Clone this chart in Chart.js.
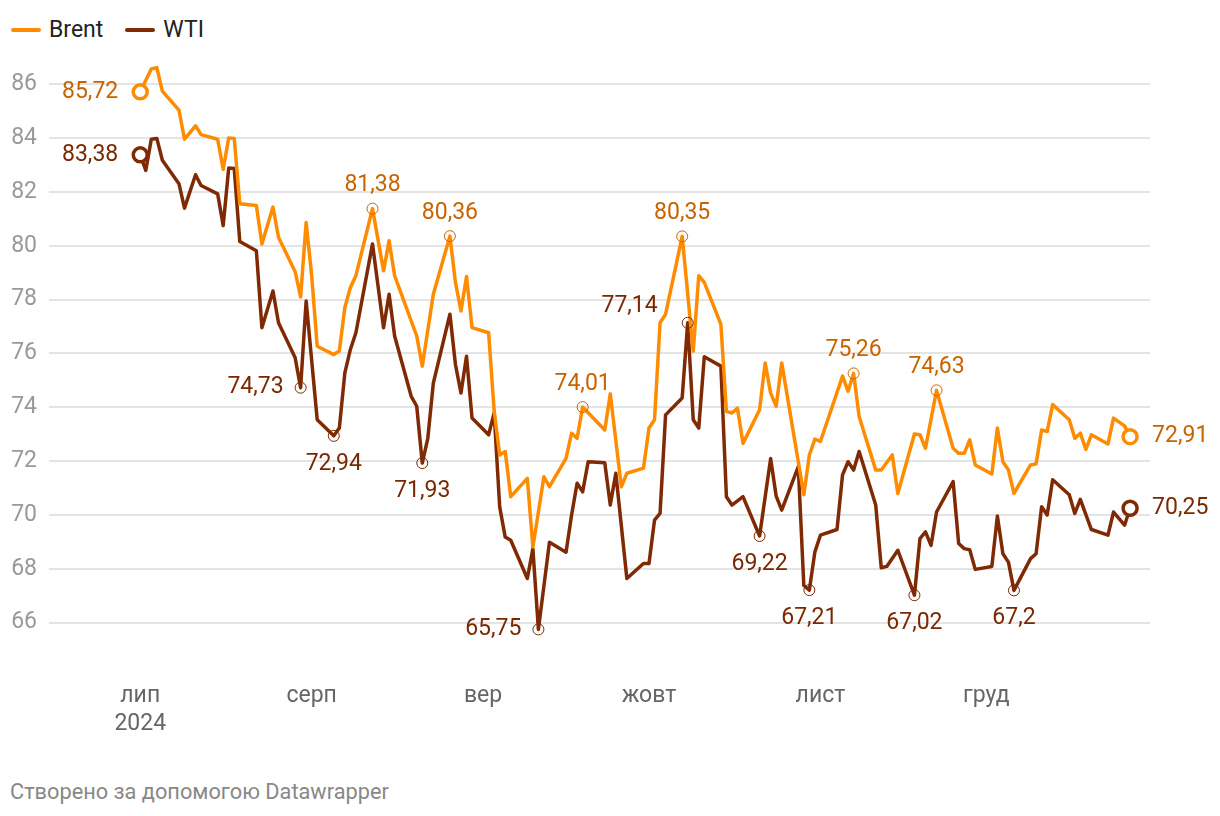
<!DOCTYPE html>
<html lang="uk">
<head>
<meta charset="utf-8">
<script src="https://cdn.jsdelivr.net/npm/chart.js@4/dist/chart.umd.min.js"></script>
<style>
  html, body { margin: 0; padding: 0; background: #fff; }
  body { width: 1220px; height: 816px; position: relative; font-family: Roboto, sans-serif; overflow: hidden; }
  .legenda { position: absolute; top: 16px; left: 11px; display: flex; align-items: center; font-size: 23px; color: #222; }
  .legenda span { display: flex; align-items: center; margin-right: 22px; }
  .legenda i { display: inline-block; width: 30px; height: 4px; border-radius: 2px; margin-right: 8px; }
  #grafico_box { position: absolute; top: 40px; left: 0; width: 1220px; height: 720px; }
  .credito { position: absolute; left: 10px; top: 779px; font-size: 21.75px; color: #888; }
</style>
</head>
<body>
<div class="legenda">
  <span><i style="background:#ff8c00"></i>Brent</span>
  <span><i style="background:#7f2a05"></i>WTI</span>
</div>
<div id="grafico_box"><canvas id="grafico" width="1220" height="720"></canvas></div>
<div class="credito">Створено за допомогою Datawrapper</div>
<script>
// dias contados a partir de 1 de julho de 2024
const brent_dias = [0,2,3,4,7,8,10,11,14,15,16,17,18,21,22,24,25,28,29,30,31,32,35,36,37,38,39,42,44,45,46,50,51,53,56,57,58,59,60,63,64,65,66,67,70,71,73,74,77,78,79,80,84,85,87,88,91,92,93,94,95,98,100,101,102,105,106,107,108,109,112,113,114,115,116,120,121,122,123,127,128,129,130,133,134,136,137,140,141,142,144,147,148,149,150,151,154,155,156,157,158,161,162,163,164,165,168,169,170,171,172,175,176,178,179];
const brent_precos = [85.72,86.57,86.62,85.75,85.04,83.96,84.46,84.13,83.96,82.84,84.01,83.99,81.56,81.5,80.07,81.44,80.32,79.05,78.1,80.87,78.89,76.27,75.96,76.09,77.71,78.45,78.89,81.38,79.07,80.19,78.89,76.65,75.53,78.2,80.36,78.64,77.58,78.86,76.96,76.77,73.88,72.23,72.36,70.68,71.36,68.81,71.42,71.05,72.1,73.04,72.85,74.01,73.16,74.5,71.05,71.55,71.74,73.23,73.54,77.14,77.46,80.35,76.09,78.89,78.64,77.08,73.85,73.79,73.97,72.66,73.91,75.65,74.53,74.04,75.65,70.75,72.23,72.82,72.73,75.16,74.6,75.26,73.66,71.67,71.67,72.23,70.8,73.01,72.98,72.48,74.63,72.48,72.29,72.29,72.79,71.86,71.52,73.23,71.98,71.67,70.8,71.86,71.9,73.16,73.1,74.1,73.54,72.85,73.04,72.44,72.98,72.64,73.6,73.31,72.91];

const wti_dias = [0,1,2,3,4,7,8,10,11,14,15,16,17,18,21,22,24,25,28,29,30,32,35,36,37,38,39,42,44,45,46,49,50,51,52,53,56,57,58,59,60,63,64,65,66,67,70,71,72,74,77,78,79,80,81,84,85,86,88,91,92,93,94,95,98,99,100,101,102,105,106,107,109,112,114,115,116,119,120,121,122,123,126,127,128,129,130,133,134,135,137,140,141,142,143,144,147,148,149,150,151,154,155,156,157,158,161,162,163,164,165,168,169,170,172,175,176,178,179];
const wti_precos = [83.38,82.8,83.96,83.99,83.18,82.31,81.4,82.64,82.24,81.93,80.75,82.89,82.87,80.16,79.82,76.96,78.32,77.14,75.85,74.73,77.95,73.54,72.94,73.23,75.28,76.15,76.77,80.07,76.96,78.2,76.65,74.41,74.04,71.93,72.85,74.9,77.46,75.59,74.53,75.9,73.6,72.98,73.79,70.3,69.18,69.06,67.64,68.75,65.75,68.99,68.62,70.0,71.18,70.86,71.98,71.94,70.37,71.55,67.64,68.2,68.2,69.81,70.06,73.72,74.35,77.14,73.54,73.23,75.88,75.53,70.68,70.37,70.68,69.22,72.1,70.7,70.18,71.8,67.38,67.21,68.63,69.25,69.46,71.49,71.98,71.67,72.36,70.37,68.04,68.09,68.69,67.02,69.12,69.37,68.87,70.11,71.24,68.94,68.75,68.71,67.98,68.09,69.96,68.56,68.25,67.2,68.38,68.56,70.31,70.0,71.31,70.75,70.06,70.58,69.46,69.25,70.11,69.62,70.25];

const meses_dias = [0,31,62,92,123,153];
const meses_nomes = ['лип','серп','вер','жовт','лист','груд'];
const ano = '2024';
const valores_y = [66,68,70,72,74,76,78,80,82,84,86];

// pontos destacados: dia e onde vai o texto
const destaques_brent = [[0,'inicio'],[42,'cima'],[56,'cima'],[80,'cima'],[98,'cima'],[129,'cima'],[144,'cima'],[179,'fim']];
const destaques_wti = [[0,'inicio'],[29,'lado'],[35,'baixo'],[51,'baixo'],[72,'lado'],[99,'ladocima'],[112,'baixo'],[121,'baixo'],[140,'baixo'],[158,'baixo'],[179,'fim']];

const cor_brent = '#ff8c00';
const cor_wti = '#7f2a05';
const texto_brent = '#c86400';
const texto_wti = '#7b2800';

const pontos = (dias, precos) => dias.map((d, i) => ({x: d, y: precos[i]}));

const marcadores = {
    id: 'marcadores',
    afterDatasetsDraw(chart) {
        const {ctx, scales: {x, y}} = chart;
        const series = [
            {dias: brent_dias, precos: brent_precos, lista: destaques_brent, linha: cor_brent, texto: texto_brent},
            {dias: wti_dias, precos: wti_precos, lista: destaques_wti, linha: cor_wti, texto: texto_wti},
        ];
        ctx.save();
        ctx.font = '23px Roboto';
        series.forEach(s => {
            s.lista.forEach(([dia, lugar]) => {
                const i = s.dias.indexOf(dia);
                const valor = s.precos[i];
                const px = x.getPixelForValue(dia);
                const py = y.getPixelForValue(valor);
                const grande = lugar === 'inicio' || lugar === 'fim';
                ctx.beginPath();
                if (grande) {
                    ctx.arc(px, py, 7, 0, Math.PI * 2);
                    ctx.fillStyle = '#fff';
                    ctx.fill();
                    ctx.lineWidth = 3.5;
                    ctx.strokeStyle = s.linha;
                } else {
                    ctx.arc(px, py, 5.5, 0, Math.PI * 2);
                    ctx.lineWidth = 1;
                    ctx.strokeStyle = s.texto;
                }
                ctx.stroke();

                const rotulo = String(valor).replace('.', ',');
                ctx.fillStyle = s.texto;
                ctx.textBaseline = 'middle';
                let tx = px, ty = py;
                if (lugar === 'inicio') { ctx.textAlign = 'right'; tx = px - 22; }
                else if (lugar === 'fim') { ctx.textAlign = 'left'; tx = px + 22; }
                else if (lugar === 'cima') { ctx.textAlign = 'center'; ty = py - 23; }
                else if (lugar === 'baixo') { ctx.textAlign = 'center'; ty = py + 28; }
                else if (lugar === 'lado') { ctx.textAlign = 'right'; tx = px - 17; }
                else { ctx.textAlign = 'right'; tx = px - 30; ty = py - 17; }
                ctx.fillText(rotulo, tx, ty);
            });
        });
        ctx.restore();
    }
};

const grafico = new Chart(document.getElementById('grafico'), {
    type: 'line',
    data: {
        datasets: [
            {
                label: 'Brent',
                data: pontos(brent_dias, brent_precos),
                borderColor: cor_brent,
                borderWidth: 3.5,
                pointRadius: 0,
                borderJoinStyle: 'round',
                tension: 0,
            },
            {
                label: 'WTI',
                data: pontos(wti_dias, wti_precos),
                borderColor: cor_wti,
                borderWidth: 3.5,
                pointRadius: 0,
                borderJoinStyle: 'round',
                tension: 0,
            }
        ]
    },
    options: {
        responsive: false,
        animation: false,
        layout: { padding: { top: 17.4, right: 70, left: 0, bottom: 0 } },
        plugins: { legend: { display: false }, tooltip: { enabled: false } },
        scales: {
            x: {
                type: 'linear',
                min: -16.5,
                max: 182.6,
                afterBuildTicks: (scale) => { scale.ticks = meses_dias.map(v => ({value: v})); },
                afterFit: (scale) => { scale.height = 83.5; },
                grid: { display: false, drawTicks: false },
                border: { display: false },
                ticks: {
                    autoSkip: false,
                    maxRotation: 0,
                    padding: 5,
                    color: '#666',
                    font: { family: 'Roboto', size: 23, lineHeight: 1.25 },
                    callback: (value, index) => index === 0 ? [meses_nomes[0], ano] : meses_nomes[index],
                }
            },
            y: {
                min: 64,
                max: 87,
                afterBuildTicks: (scale) => { scale.ticks = valores_y.map(v => ({value: v})); },
                afterFit: (scale) => {
                    scale.width = 49;
                    scale.paddingTop = 0;
                    scale.paddingBottom = 0;
                },
                grid: { color: '#e4e4e4', lineWidth: 2, drawTicks: false },
                border: { display: false },
                ticks: {
                    padding: 12,
                    color: '#999',
                    font: { family: 'Roboto', size: 23 },
                }
            }
        }
    },
    plugins: [marcadores]
});
</script>
</body>
</html>
